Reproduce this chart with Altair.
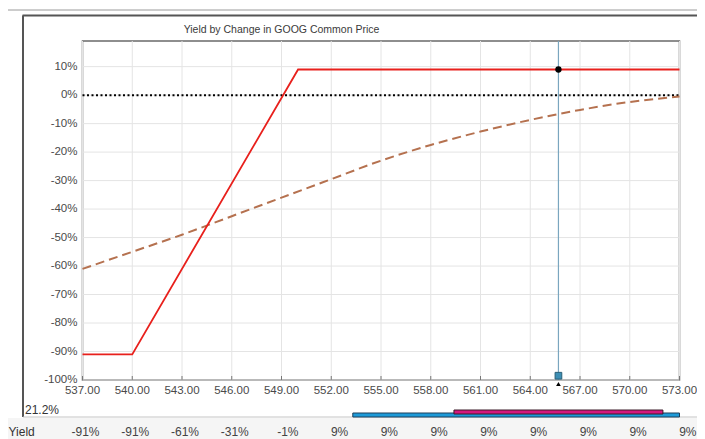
import altair as alt
import pandas as pd

# ---- data ----
x_ticks = [537, 540, 543, 546, 549, 552, 555, 558, 561, 564, 567, 570, 573]
x_labels = ["537.00", "540.00", "543.00", "546.00", "549.00", "552.00", "555.00",
            "558.00", "561.00", "564.00", "567.00", "570.00", "573.00"]
y_ticks = [10, 0, -10, -20, -30, -40, -50, -60, -70, -80, -90, -100]
y_labels = ["10%", "0%", "-10%", "-20%", "-30%", "-40%", "-50%", "-60%", "-70%",
            "-80%", "-90%", "-100%"]

red_x = [537, 540, 550, 573]
red_y = [-91, -91, 9, 9]

dash_x = [537, 540, 543, 546, 549, 552, 555, 558, 561, 564, 567, 570, 573]
dash_y = [-61, -55, -49, -42.5, -36, -29.5, -23, -17.5, -12.8, -8.7, -5.2, -2.4, -0.5]

yield_labels = ["-91%", "-91%", "-61%", "-31%", "-1%", "9%", "9%", "9%", "9%", "9%", "9%", "9%", "9%"]

marker_x = 565.7
marker_y = 9
marker_low = -98.5

blue_bar = [553.3, 573]
magenta_bar = [559.4, 572]

title_text = "Yield by Change in GOOG Common Price"
side_text = "21.2%"
row_label = "Yield"

FONT = "Liberation Sans"
W, H = 597, 339

xs = alt.Scale(domain=[537, 573], nice=False, zero=False)
ys = alt.Scale(domain=[-100, 19], nice=False, zero=False)


def X(f="x:Q"):
    return alt.X(f, scale=xs, axis=None)


def Y(f="y:Q"):
    return alt.Y(f, scale=ys, axis=None)


one = pd.DataFrame({"a": [0]})

# background for the bottom row and frame lines (decoration)
row_bg = alt.Chart(one).mark_rect(color="#f5f5f5").encode(
    x=alt.value(-74.5), x2=alt.value(614.5), y=alt.value(377), y2=alt.value(400))
frame_outer = alt.Chart(one).mark_rule(color="#9a9a9a", strokeWidth=1).encode(
    x=alt.value(-74.5), x2=alt.value(614.5), y=alt.value(-31))
frame_top = alt.Chart(one).mark_rule(color="#555555", strokeWidth=2).encode(
    x=alt.value(-60), x2=alt.value(614.5), y=alt.value(-25.5))
frame_left = alt.Chart(one).mark_rule(color="#555555", strokeWidth=2).encode(
    x=alt.value(-59.5), y=alt.value(-25.5), y2=alt.value(376))
frame_sep = alt.Chart(one).mark_rule(color="#c4c4c4", strokeWidth=1).encode(
    x=alt.value(-59.5), x2=alt.value(614.5), y=alt.value(376))

xdf = pd.DataFrame({"x": x_ticks, "t": x_labels})
ydf = pd.DataFrame({"y": y_ticks, "t": y_labels})

xgrid = alt.Chart(xdf).mark_rule(color="#e4e4e4", strokeWidth=1).encode(
    x=X(), y=alt.value(0), y2=alt.value(H))
ygrid = alt.Chart(ydf).mark_rule(color="#e4e4e4", strokeWidth=1).encode(
    y=Y(), x=alt.value(0), x2=alt.value(W))

xlab = alt.Chart(xdf).mark_text(
    font=FONT, fontSize=11.5, color="#4a4a4a", align="center", baseline="top").encode(
    text="t:N", x=X(), y=alt.value(H + 5))
ylab = alt.Chart(ydf).mark_text(
    font=FONT, fontSize=11.5, color="#4a4a4a", align="right", baseline="middle").encode(
    text="t:N", y=Y(), x=alt.value(-5))

ticks_in = alt.Chart(xdf).mark_rule(color="#777777").encode(
    x=X(), y=alt.value(H - 4), y2=alt.value(H))

zero_line = alt.Chart(pd.DataFrame({"y": [0]})).mark_rule(
    color="black", strokeWidth=2, strokeDash=[2, 2.5]).encode(
    y=Y(), x=alt.value(0), x2=alt.value(W))

dashed = alt.Chart(pd.DataFrame({"x": dash_x, "y": dash_y})).mark_line(
    color="#b5714f", strokeWidth=2, strokeDash=[9, 5], interpolate="monotone").encode(
    x=X(), y=Y())

red = alt.Chart(pd.DataFrame({"x": red_x, "y": red_y})).mark_line(
    color="#e8201c", strokeWidth=1.8).encode(x=X(), y=Y())

vline = alt.Chart(pd.DataFrame({"x": [marker_x]})).mark_rule(
    color="#7aa6bf", strokeWidth=1.2).encode(
    x=X(), y=alt.value(0), y2=alt.value(H))

dot = alt.Chart(pd.DataFrame({"x": [marker_x], "y": [marker_y]})).mark_point(
    filled=True, color="black", size=40, opacity=1).encode(x=X(), y=Y())

square = alt.Chart(pd.DataFrame({"x": [marker_x], "y": [marker_low]})).mark_point(
    shape="square", filled=True, color="#3d8fb5", stroke="#2a5f78", strokeWidth=1,
    size=45, opacity=1).encode(x=X(), y=Y())

tri = alt.Chart(pd.DataFrame({"x": [marker_x]})).mark_point(
    shape="triangle-up", filled=True, color="black", size=22, opacity=1).encode(
    x=X(), y=alt.value(H + 4))

bars = pd.DataFrame({"x": [blue_bar[0], magenta_bar[0]], "x2": [blue_bar[1], magenta_bar[1]],
                     "kind": ["blue", "magenta"]})
blue = alt.Chart(bars[bars.kind == "blue"]).mark_rect(
    color="#1c9ad8", stroke="#1d3f5a", strokeWidth=1).encode(
    x=X(), x2="x2:Q", y=alt.value(372), y2=alt.value(376))
magenta = alt.Chart(bars[bars.kind == "magenta"]).mark_rect(
    color="#d4177c", stroke="#3a1a28", strokeWidth=1).encode(
    x=X(), x2="x2:Q", y=alt.value(369), y2=alt.value(373))

title = alt.Chart(pd.DataFrame({"t": [title_text]})).mark_text(
    font=FONT, fontSize=10.5, color="#3a3a3a", align="center", baseline="middle").encode(
    text="t:N", x=alt.value(199), y=alt.value(-11))

side = alt.Chart(pd.DataFrame({"t": [side_text]})).mark_text(
    font=FONT, fontSize=12, color="#333333", align="left", baseline="middle").encode(
    text="t:N", x=alt.value(-57.5), y=alt.value(369))

rowlab = alt.Chart(pd.DataFrame({"t": [row_label]})).mark_text(
    font=FONT, fontSize=12, color="#333333", align="left", baseline="middle").encode(
    text="t:N", x=alt.value(-74), y=alt.value(391))

rowvals = alt.Chart(pd.DataFrame({"x": x_ticks, "t": yield_labels})).mark_text(
    font=FONT, fontSize=12, color="#444444", align="right", baseline="middle", dx=17).encode(
    text="t:N", x=X(), y=alt.value(391))

chart = alt.layer(
    row_bg, frame_outer, frame_top, frame_left, frame_sep,
    xgrid, ygrid, xlab, ylab, ticks_in, zero_line, dashed, red, vline,
    dot, square, tri, blue, magenta, title, side, rowlab, rowvals
).properties(
    width=W, height=H,
    autosize=alt.AutoSizeParams(type="none"),
    padding={"left": 74.5, "top": 33, "right": 17.5, "bottom": 59},
    background="white"
).configure_view(stroke="#6a6a6a", strokeWidth=1.5)

chart.save("out.html", embed_options={"renderer": "svg", "actions": False})
